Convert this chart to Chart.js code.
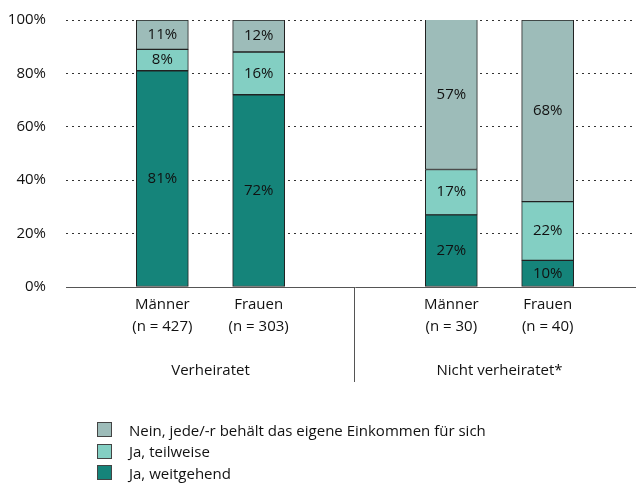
<!DOCTYPE html>
<html>
<head>
<meta charset="utf-8">
<script src="https://cdn.jsdelivr.net/npm/chart.js@4/dist/chart.umd.min.js"></script>
<style>
  body { margin: 0; background: #fff; overflow: hidden; }
  #wrap { position: relative; width: 644px; height: 485px; }
  #legend { position: absolute; left: 97px; top: 419px; margin: 0; padding: 0; list-style: none;
            font: 15px "Open Sans", sans-serif; color: #111; }
  #legend li { display: flex; align-items: center; height: 21.5px; }
  #legend span.box { display: inline-block; width: 13px; height: 13px; border: 1px solid #444; margin-right: 17px; }
</style>
</head>
<body>
<div id="wrap">
  <canvas id="myChart"></canvas>
  <ul id="legend"></ul>
</div>
<script>
var groups = ['Verheiratet', 'Nicht verheiratet*'];
var categories = [['Männer', '(n = 427)'], ['Frauen', '(n = 303)'], ['Männer', '(n = 30)'], ['Frauen', '(n = 40)']];
var jaWeitgehend = [81, 72, 27, 10];
var jaTeilweise = [8, 16, 17, 22];
var nein = [11, 12, 57, 68];
var yTicks = [0, 20, 40, 60, 80, 100];

// empty slots at the edges and between the two groups
function spaced(arr) {
  return [null, arr[0], arr[1], null, arr[2], arr[3], null];
}

var valueLabels = {
  id: 'valueLabels',
  afterDatasetsDraw: function(chart) {
    var ctx = chart.ctx;
    ctx.save();
    ctx.font = '15px "Open Sans"';
    ctx.fillStyle = '#111';
    ctx.textAlign = 'center';
    ctx.textBaseline = 'middle';
    chart.data.datasets.forEach(function(ds, i) {
      chart.getDatasetMeta(i).data.forEach(function(bar, j) {
        var v = ds.data[j];
        if (v == null) return;
        var p = bar.getProps(['x', 'y', 'base'], true);
        var top = Math.max(p.y, chart.chartArea.top);
        ctx.fillText(v + '%', p.x, (top + p.base) / 2);
      });
    });
    ctx.restore();
  }
};

var groupLabels = {
  id: 'groupLabels',
  afterDraw: function(chart) {
    var ctx = chart.ctx;
    var x = chart.scales.x;
    var bottom = chart.chartArea.bottom;
    ctx.save();
    ctx.strokeStyle = '#555';
    ctx.lineWidth = 1;
    var sx = Math.round(x.getPixelForValue(3)) - 0.5;
    ctx.beginPath();
    ctx.moveTo(sx, bottom);
    ctx.lineTo(sx, bottom + 95);
    ctx.stroke();
    ctx.font = '15px "Open Sans"';
    ctx.fillStyle = '#111';
    ctx.textAlign = 'center';
    ctx.textBaseline = 'middle';
    ctx.fillText(groups[0], (x.getPixelForValue(1) + x.getPixelForValue(2)) / 2, bottom + 84);
    ctx.fillText(groups[1], (x.getPixelForValue(4) + x.getPixelForValue(5)) / 2, bottom + 84);
    ctx.restore();
  }
};

Chart.defaults.font.family = '"Open Sans"';
Chart.defaults.font.size = 15;
Chart.defaults.color = '#111';

var chart = new Chart(document.getElementById('myChart'), {
  type: 'bar',
  data: {
    labels: spaced(categories).map(function(c) { return c || ''; }),
    datasets: [{
      label: 'Ja, weitgehend',
      data: spaced(jaWeitgehend),
      backgroundColor: '#15847a'
    }, {
      label: 'Ja, teilweise',
      data: spaced(jaTeilweise),
      backgroundColor: '#83cfc3'
    }, {
      label: 'Nein, jede/-r behält das eigene Einkommen für sich',
      data: spaced(nein),
      backgroundColor: '#9dbcb9'
    }]
  },
  options: {
    responsive: true,
    maintainAspectRatio: false,
    animation: false,
    layout: { padding: 0 },
    datasets: {
      bar: { barThickness: 52, borderColor: '#222', borderWidth: 1, borderSkipped: false }
    },
    scales: {
      x: {
        stacked: true,
        offset: false,
        grid: { display: false },
        border: { display: true, color: '#555', width: 1 },
        ticks: { padding: -2, maxRotation: 0, autoSkip: false, font: { size: 15, lineHeight: 1.5 } },
        afterFit: function(scale) { scale.height = 198; }
      },
      y: {
        stacked: true,
        min: yTicks[0],
        max: yTicks[yTicks.length - 1],
        afterBuildTicks: function(scale) {
          scale.ticks = yTicks.map(function(v) { return { value: v }; });
        },
        ticks: { padding: 11, callback: function(v) { return v + '%'; } },
        grid: {
          drawTicks: true,
          tickLength: 9,
          tickColor: 'rgba(0,0,0,0)',
          lineWidth: 1,
          color: function(c) { return c.tick && c.tick.value === 0 ? 'rgba(0,0,0,0)' : '#333'; }
        },
        border: { display: false, dash: [2, 4] },
        afterFit: function(scale) { scale.width = 66; }
      }
    },
    plugins: {
      legend: { display: false },
      tooltip: { enabled: false }
    }
  },
  plugins: [valueLabels, groupLabels]
});

// html legend, top to bottom like the stacks
var items = Chart.defaults.plugins.legend.labels.generateLabels(chart).reverse();
var ul = document.getElementById('legend');
items.forEach(function(it) {
  var li = document.createElement('li');
  var box = document.createElement('span');
  box.className = 'box';
  box.style.background = it.fillStyle;
  li.appendChild(box);
  li.appendChild(document.createTextNode(it.text));
  ul.appendChild(li);
});
</script>
</body>
</html>
